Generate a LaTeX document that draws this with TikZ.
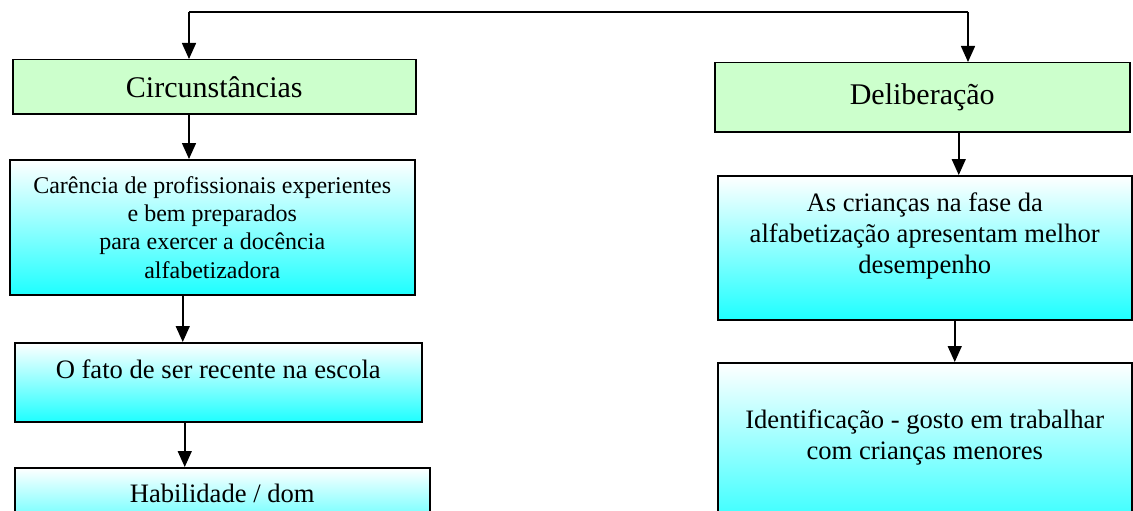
\documentclass[tikz,border=0pt]{standalone}
\usepackage{fontspec}
\setmainfont{Liberation Serif}
\usepackage{tikz}
\usetikzlibrary{arrows.meta,calc,positioning}
\definecolor{hdgreen}{RGB}{204,255,204}
\definecolor{bxcyan}{RGB}{30,255,255}

\begin{document}
\begin{tikzpicture}[x=1pt,y=-1pt,
  line width=1.5pt,
  headbox/.style={draw,fill=hdgreen,anchor=north west,inner sep=0pt,align=center,font=\fontsize{30}{35}\selectfont},
  bodybox/.style={draw,top color=white,bottom color=bxcyan,anchor=north west,inner sep=0pt,align=center},
  txt/.style={inner sep=0pt,align=center,font=\fontsize{26.6}{31}\selectfont},
  arr/.style={-{Triangle[length=16pt,width=14pt]}}]
\clip (0,0) rectangle (1133,511);
\fill[white] (0,0) rectangle (1133,511);
\node[headbox,minimum width=403,minimum height=54] (circ) at (12,59) {Circunstâncias};
\node[bodybox,minimum width=405,minimum height=135,font=\fontsize{24}{28.3}\selectfont] (carencia) at (9,159) {Carência de profissionais experientes\\e bem preparados\\para exercer a docência\\alfabetizadora};
\node[bodybox,minimum width=407,minimum height=79] (fato) at (14,342) {};
\node[txt,anchor=base] (fatoT) at ([yshift=-36pt]fato.north) {O fato de ser recente na escola};
\node[bodybox,minimum width=415,minimum height=80] (habil) at (14,467) {};
\node[txt,anchor=base] (habilT) at ([yshift=-35pt]habil.north) {Habilidade / dom};
\node[headbox,minimum width=415,minimum height=69] (delib) at (714,62) {Deliberação};
\node[bodybox,minimum width=414,minimum height=144] (crian) at (717,175) {};
\node[txt,anchor=north] (crianT) at ([yshift=-16.8pt]crian.north) {As crianças na fase da\\alfabetização apresentam melhor\\desempenho};
\node[bodybox,minimum width=414,minimum height=180] (ident) at (717,362) {};
\node[txt,anchor=north] (identT) at ([yshift=-46.8pt]ident.north) {Identificação - gosto em trabalhar\\com crianças menores};
\coordinate (topL) at (189,12);
\coordinate (topR) at (968,12);
\draw (topL) -- (topR);
\draw[arr] (topL) -- (topL |- circ.north);
\draw[arr] (topR) -- (topR |- delib.north);
\draw[arr] (topL |- circ.south) -- (topL |- carencia.north);
\draw[arr] ([xshift=-29.5pt]carencia.south) -- ([xshift=-29.5pt]carencia.south |- fato.north);
\draw[arr] ([xshift=-33.5pt]fato.south) -- ([xshift=-33.5pt]fato.south |- habil.north);
\draw[arr] ([xshift=36.5pt]delib.south) -- ([xshift=36.5pt]delib.south |- crian.north);
\draw[arr] ([xshift=30pt]crian.south) -- ([xshift=30pt]crian.south |- ident.north);
\end{tikzpicture}
\end{document}
